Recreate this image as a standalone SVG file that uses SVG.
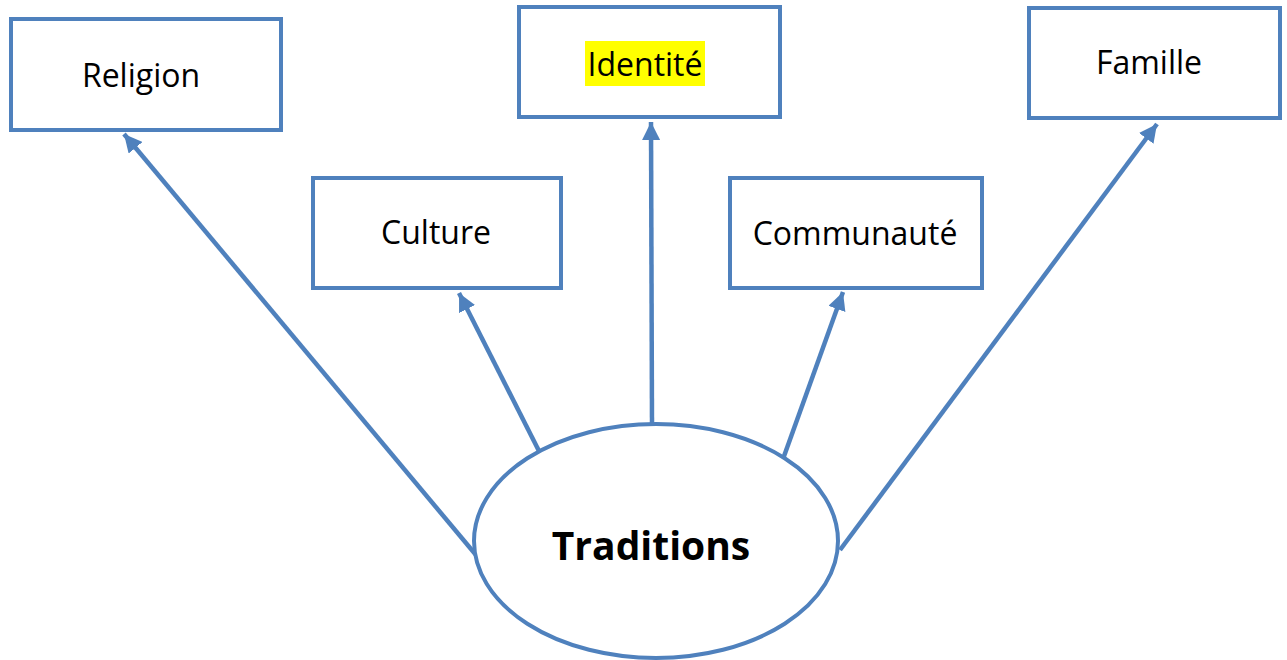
<svg xmlns="http://www.w3.org/2000/svg" width="1287" height="660" viewBox="0 0 1287 660">
<style>
.box{fill:#fff;stroke:#4F81BD;stroke-width:4}
.lbl{font-family:"Open Sans","Noto Sans",sans-serif;font-size:32px;fill:#000;text-anchor:middle}
.con{stroke:#4F81BD;stroke-width:4.5;fill:none;marker-end:url(#ah)}
</style>
<defs>
<marker id="ah" markerUnits="userSpaceOnUse" markerWidth="20" markerHeight="18" refX="18" refY="9" orient="auto">
<path d="M0,0 L18,9 L0,18 Z" fill="#4F81BD"/>
</marker>
</defs>
<rect width="1287" height="660" fill="#fff"/>
<g id="connectors">
<line class="con" x1="476" y1="555" x2="124" y2="134"/>
<line class="con" x1="540" y1="453" x2="459" y2="293"/>
<line class="con" x1="652" y1="426" x2="651" y2="122"/>
<line class="con" x1="783" y1="459" x2="843" y2="292"/>
<line class="con" x1="840" y1="550" x2="1157" y2="124"/>
</g>
<g id="religion">
<rect class="box" x="11" y="19" width="270" height="111"/>
<text class="lbl" x="141" y="87">Religion</text>
</g>
<g id="culture">
<rect class="box" x="313" y="178" width="248" height="110"/>
<text class="lbl" x="436" y="244">Culture</text>
</g>
<g id="identite">
<rect class="box" x="519" y="7" width="261" height="110"/>
<rect x="585" y="41" width="120" height="45" fill="#FFFF00"/>
<text class="lbl" x="645" y="76">Identité</text>
</g>
<g id="communaute">
<rect class="box" x="730" y="178" width="252" height="110"/>
<text class="lbl" x="855" y="245">Communauté</text>
</g>
<g id="famille">
<rect class="box" x="1029" y="8" width="251" height="110"/>
<text class="lbl" x="1149" y="74">Famille</text>
</g>
<g id="traditions">
<ellipse cx="656" cy="541" rx="182" ry="117" fill="#fff" stroke="#4F81BD" stroke-width="4"/>
<text x="651" y="560" font-family="'Open Sans','Noto Sans',sans-serif" font-weight="bold" font-size="39" text-anchor="middle" fill="#000">Traditions</text>
</g>
</svg>
